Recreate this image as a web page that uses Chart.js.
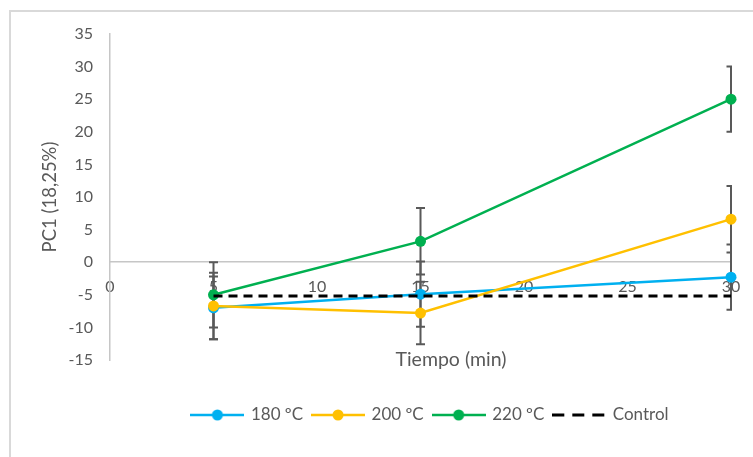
<!DOCTYPE html>
<html><head><meta charset="utf-8">
<script src="https://cdn.jsdelivr.net/npm/chart.js@4.4.1/dist/chart.umd.min.js"></script>
<style>
html,body{margin:0;padding:0;background:#fff;}
#wrap{position:relative;width:753px;height:457px;overflow:hidden;}
#frame{position:absolute;left:9px;top:10px;width:800px;height:500px;border:2px solid #d9d9d9;box-sizing:border-box;}
canvas{position:absolute;left:0;top:0;}
</style></head><body>
<div id="wrap"><div id="frame"></div><canvas id="c" width="753" height="457"></canvas></div>
<script>
// ---- data ----
const times = [5, 15, 30];
const s180 = [-7.0, -4.9, -2.3];
const s200 = [-6.7, -7.8, 6.6];
const s220 = [-5.0, 3.2, 25.0];
const control = [-5.2, -5.2, -5.2];
const err180 = [4.8, 5.0, 5.0];
const err200 = [5.1, 4.8, 5.1];
const err220 = [5.0, 5.1, 5.0];
const seriesNames = ['180 ºC', '200 ºC', '220 ºC', 'Control'];
const xTickRange = [0, 30, 5];   // min, max, step
const yTickRange = [-15, 35, 5]; // min, max, step
const xTitleText = 'Tiempo (min)';
const yTitleText = 'PC1 (18,25%)';

const FONT = 'Lato';
const TXT = '#595959';
const AXIS = '#c6c6c6';

function pts(vals) { return times.map((t, i) => ({x: t, y: vals[i]})); }

function legendIcon(color, dashed) {
  const c = document.createElement('canvas');
  c.width = 54; c.height = 14;
  const g = c.getContext('2d');
  g.strokeStyle = color;
  g.lineWidth = dashed ? 3 : 2.5;
  if (dashed) g.setLineDash([12, 8]);
  g.beginPath(); g.moveTo(0, 7); g.lineTo(54, 7); g.stroke();
  if (!dashed) { g.fillStyle = color; g.beginPath(); g.arc(27, 7, 5.5, 0, Math.PI * 2); g.fill(); }
  return c;
}

const colors = ['#00B0F0', '#FFC000', '#00B050', '#000000'];

const datasets = [
  {label: seriesNames[0], data: pts(s180), errors: err180, borderColor: colors[0], backgroundColor: colors[0], order: 4},
  {label: seriesNames[1], data: pts(s200), errors: err200, borderColor: colors[1], backgroundColor: colors[1], order: 3},
  {label: seriesNames[2], data: pts(s220), errors: err220, borderColor: colors[2], backgroundColor: colors[2], order: 2},
  {label: seriesNames[3], data: pts(control), borderColor: colors[3], backgroundColor: colors[3], order: 1,
   borderDash: [9, 6], borderWidth: 3, pointRadius: 0, pointHoverRadius: 0}
].map((d, i) => Object.assign({
  borderWidth: 2.5, pointRadius: 5.5, pointHoverRadius: 5.5, pointBorderWidth: 0,
  tension: 0, clip: false, fill: false, icon: legendIcon(colors[i], i === 3)
}, d));

const errorBars = {
  id: 'errorBars',
  beforeDatasetsDraw(chart) {
    const {ctx, chartArea: a, scales: {x, y}} = chart;
    ctx.save();
    ctx.beginPath();
    ctx.rect(a.left - 20, a.top - 20, a.right - a.left + 21, a.bottom - a.top + 40);
    ctx.clip();
    ctx.strokeStyle = TXT; ctx.lineWidth = 2;
    chart.data.datasets.forEach(ds => {
      if (!ds.errors) return;
      ds.data.forEach((p, i) => {
        const e = ds.errors[i];
        const px = x.getPixelForValue(p.x);
        const t = y.getPixelForValue(p.y + e), b = y.getPixelForValue(p.y - e);
        ctx.beginPath();
        ctx.moveTo(px, t); ctx.lineTo(px, b);
        ctx.moveTo(px - 4.5, t); ctx.lineTo(px + 4.5, t);
        ctx.moveTo(px - 4.5, b); ctx.lineTo(px + 4.5, b);
        ctx.stroke();
      });
    });
    ctx.restore();
  }
};

const xTitle = {
  id: 'xTitle',
  afterDraw(chart) {
    const {ctx, chartArea: a} = chart;
    ctx.save();
    ctx.font = '19.5px ' + FONT;
    ctx.fillStyle = TXT; ctx.textAlign = 'center'; ctx.textBaseline = 'middle';
    ctx.fillText(xTitleText, a.left + (a.right - a.left) * 0.549, a.bottom);
    ctx.restore();
  }
};

const legendShift = {
  id: 'legendShift',
  afterLayout(chart) { chart.legend.left += 10; chart.legend.right += 10; }
};

new Chart(document.getElementById('c'), {
  type: 'line',
  data: {datasets},
  plugins: [errorBars, xTitle, legendShift],
  options: {
    responsive: false, animation: false, events: [],
    layout: {padding: {top: 34, right: 22, bottom: 23.5, left: 0}},
    scales: {
      x: {
        type: 'linear', position: {y: 0}, min: xTickRange[0], max: xTickRange[1],
        ticks: {stepSize: xTickRange[2], color: TXT, font: {family: FONT, size: 16}, padding: 7},
        grid: {display: false}, border: {display: true, color: AXIS, width: 1.5}
      },
      x2: {
        type: 'linear', position: 'bottom', display: true, min: xTickRange[0], max: xTickRange[1],
        ticks: {display: false}, grid: {display: false, drawTicks: false}, border: {display: false},
        afterFit(s) { s.height = 36.5; }
      },
      y: {
        min: yTickRange[0], max: yTickRange[1],
        ticks: {stepSize: yTickRange[2], color: TXT, font: {family: FONT, size: 16}, padding: 9},
        grid: {display: false}, border: {display: true, color: AXIS, width: 1.5},
        title: {display: true, text: yTitleText, color: TXT, font: {family: FONT, size: 18.5}, padding: {top: 39, bottom: 0}},
        afterFit(s) { s.width = 110; }
      }
    },
    plugins: {
      tooltip: {enabled: false},
      legend: {
        position: 'bottom', fullSize: false,
        labels: {
          usePointStyle: true, pointStyleWidth: 50, padding: 10, color: TXT,
          font: {family: FONT, size: 17},
          generateLabels(chart) {
            return chart.data.datasets.map((ds, i) => ({
              text: ds.label, pointStyle: ds.icon, fillStyle: ds.borderColor,
              strokeStyle: ds.borderColor, lineWidth: 0, hidden: false, datasetIndex: i, fontColor: TXT
            }));
          }
        }
      }
    }
  }
});
</script>
</body></html>
